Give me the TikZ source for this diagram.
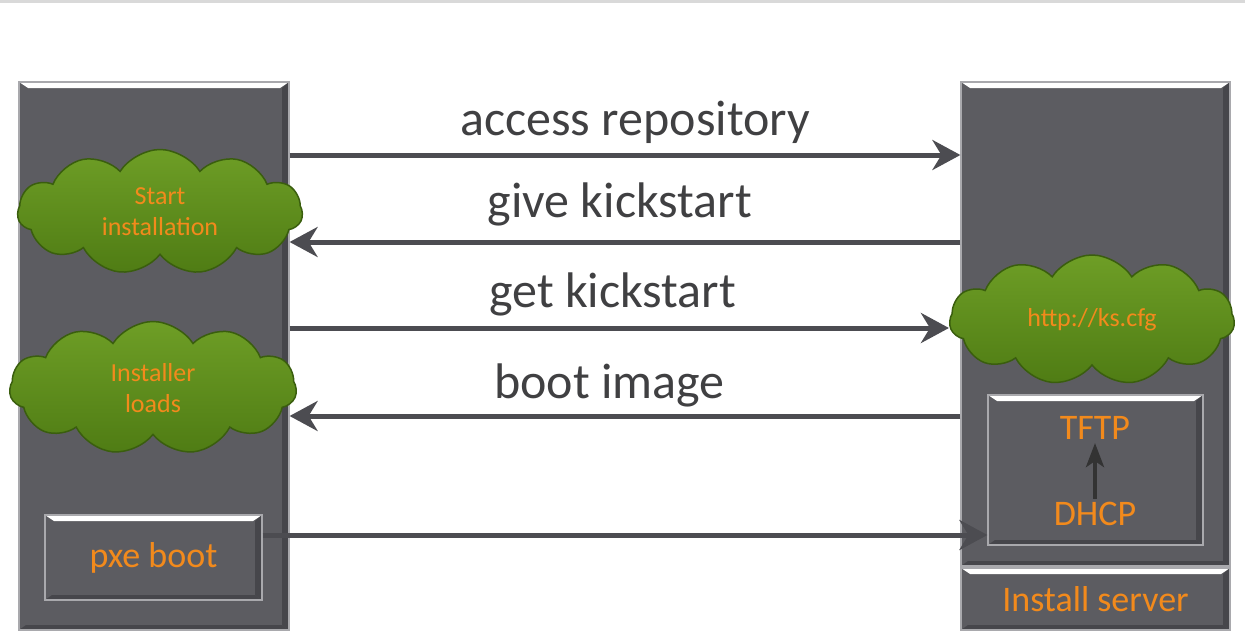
\documentclass[tikz,border=0pt]{standalone}
\usepackage{fontspec}
\setmainfont{Carlito}
\usetikzlibrary{arrows.meta,calc,positioning,shapes.symbols}
\definecolor{boxgray}{HTML}{5C5C61}
\definecolor{rimgray}{HTML}{A9A9AD}
\definecolor{shadegray}{HTML}{46464B}
\definecolor{puffgreen}{HTML}{4F7C14}
\definecolor{puffdark}{HTML}{3A5E0E}
\definecolor{pufflight}{HTML}{6E9E26}
\definecolor{txtorange}{HTML}{F28A1C}
\definecolor{labelgray}{HTML}{404042}
\definecolor{shaftgray}{HTML}{4C4C51}
\tikzset{>=Stealth}
\tikzset{
  bevel/.style={draw=rimgray, line width=1.2pt, fill=boxgray, inner sep=0pt, text=txtorange,
    path picture={
      \fill[white] (path picture bounding box.north west) -- (path picture bounding box.north east)
        -- ($(path picture bounding box.north east)+(-9,6)$) -- ($(path picture bounding box.north west)+(9,6)$) -- cycle;
      \fill[shadegray] (path picture bounding box.south west) -- (path picture bounding box.south east)
        -- ($(path picture bounding box.south east)+(-7,-5)$) -- ($(path picture bounding box.south west)+(7,-5)$) -- cycle;
      \fill[shadegray] (path picture bounding box.north east) -- (path picture bounding box.south east)
        -- ($(path picture bounding box.south east)+(-7,-5)$) -- ($(path picture bounding box.north east)+(-7,6)$) -- cycle;
    }},
  puff/.style={cloud, cloud puffs=11, cloud puff arc=115, cloud ignores aspect, draw=puffdark, line width=1.5pt,
    top color=pufflight, bottom color=puffgreen, text=txtorange, align=center, inner sep=0pt,
    font=\fontsize{26}{31}\selectfont},
  flow/.style={-{Stealth[length=28pt,width=30pt,inset=9pt]}, line width=5pt, draw=shaftgray},
  msg/.style={anchor=base, text=labelgray, font=\fontsize{50}{58}\selectfont},
}
\begin{document}
\begin{tikzpicture}[x=1pt, y=-1pt]
\useasboundingbox (0,0) rectangle (1245,634);
\draw[black!15, line width=3pt] (0,1.5) -- (1245,1.5);

% client side
\node[bevel, minimum width=270, minimum height=548] (client) at (154,356) {};
\node[puff, minimum width=285, minimum height=125] (start) at (160,212) {Start\\installation};
\node[puff, minimum width=287, minimum height=133] (loads) at (153,388) {Installer\\loads};
\node[bevel, minimum width=217, minimum height=85, font=\fontsize{36}{40}\selectfont] (pxe) at (153.5,557.5) {pxe boot};

% server side
\node[bevel, minimum width=269, minimum height=484] (server) at (1095.5,324) {};
\node[bevel, minimum width=269, minimum height=62, font=\fontsize{36}{40}\selectfont] (instsrv) at (1095.5,599) {Install server};
\node[puff, minimum width=285, minimum height=130] (ks) at (1092,320) {http://ks.cfg};
\node[bevel, minimum width=215, minimum height=150] (boot) at (1095.5,470) {};
\node[text=txtorange, font=\fontsize{36}{40}\selectfont] (tftp) at (1095,428) {TFTP};
\node[text=txtorange, font=\fontsize{36}{40}\selectfont] (dhcp) at (1095,514) {DHCP};
\draw[-{Stealth[length=24pt,width=18pt,inset=6pt]}, line width=4pt, draw=black!80] (dhcp.north) -- (tftp.south);

% messages
\draw[flow] (client.east |- 0,155) -- (server.west |- 0,155)
  node[msg, pos=0.515, yshift=20] {access repository};
\draw[flow] (server.west |- 0,242) -- (client.east |- 0,242)
  node[msg, pos=0.508, yshift=25] {give kickstart};
\draw[flow] (client.east |- 0,328) -- (ks.west |- 0,328)
  node[msg, pos=0.49, yshift=21] {get kickstart};
\draw[flow] (server.west |- 0,416) -- (client.east |- 0,416)
  node[msg, pos=0.523, yshift=18] {boot image};
\draw[flow] (pxe.east |- 0,535) -- (boot.west |- 0,535);
\end{tikzpicture}
\end{document}
